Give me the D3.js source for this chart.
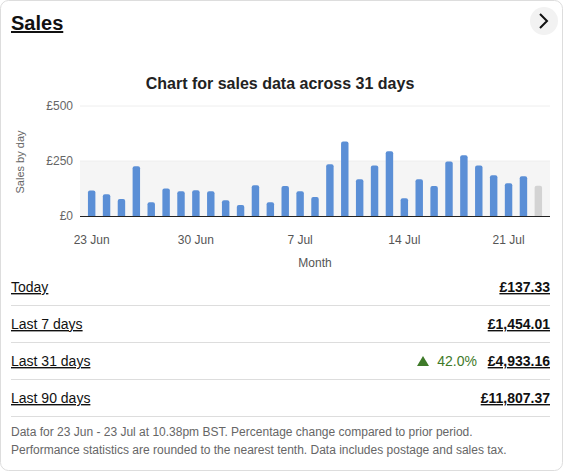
<!DOCTYPE html><html><head><meta charset="utf-8"><script src="https://cdn.jsdelivr.net/npm/d3@7"></script>
<style>body{margin:0;background:#fff;font-family:Arial,"Liberation Sans",sans-serif}</style></head><body><svg id="c" width="563" height="471"></svg>
<script>
const days=["23 Jun","24 Jun","25 Jun","26 Jun","27 Jun","28 Jun","29 Jun","30 Jun","1 Jul","2 Jul","3 Jul","4 Jul","5 Jul","6 Jul","7 Jul","8 Jul","9 Jul","10 Jul","11 Jul","12 Jul","13 Jul","14 Jul","15 Jul","16 Jul","17 Jul","18 Jul","19 Jul","20 Jul","21 Jul","22 Jul","23 Jul"];
const sales=[116,99,77,226,63,125,113,117,113,72,50,140,62,136,113,86,235,339,167,230,294,81,167,136,248,276,230,185,149,181,137];
const xTicks=["23 Jun","30 Jun","7 Jul","14 Jul","21 Jul"];
const yTicks=[0,250,500];
const rowLabels=["Today","Last 7 days","Last 31 days","Last 90 days"];
const rowValues=["£137.33","£1,454.01","£4,933.16","£11,807.37"];
const svg=d3.select("#c");
svg.append("rect").attr("x",0.5).attr("y",0.5).attr("width",562).attr("height",470).attr("rx",8).attr("fill","#fff").attr("stroke","#ddd");
svg.append("text").attr("x",11).attr("y",30).attr("font-size",20).attr("font-weight","bold").attr("fill","#111").attr("text-decoration","underline").text("Sales");
svg.append("circle").attr("cx",544).attr("cy",21).attr("r",14).attr("fill","#f2f2f2");
svg.append("path").attr("d","M540,14 L547,21 L540,28").attr("fill","none").attr("stroke","#111").attr("stroke-width",2);
svg.append("text").attr("x",280).attr("y",89).attr("text-anchor","middle").attr("font-size",16).attr("font-weight","bold").attr("fill","#222").text("Chart for sales data across 31 days");
const x=d3.scaleBand().domain(days).range([80.5,549.5]).padding(0.5);
const y=d3.scaleLinear().domain([0,500]).range([216,106]);
svg.append("rect").attr("x",80).attr("width",470).attr("y",y(250)).attr("height",y(0)-y(250)).attr("fill","#f5f5f5");
const g=svg.append("g");
yTicks.forEach(t=>{ if(t>0) g.append("line").attr("x1",80).attr("x2",550).attr("y1",y(t)).attr("y2",y(t)).attr("stroke","#eee");
 g.append("text").attr("x",73).attr("y",y(t)+4).attr("text-anchor","end").attr("font-size",12).attr("fill","#666").text("£"+t);});
svg.selectAll(".b").data(sales).enter().append("path").attr("fill",(d,i)=>i==sales.length-1?"#d3d3d3":"#5b8fd6")
 .attr("d",(d,i)=>{const x0=x(days[i]),w=x.bandwidth(),t=y(d),r=2;return `M${x0},${y(0)}V${t+r}Q${x0},${t} ${x0+r},${t}H${x0+w-r}Q${x0+w},${t} ${x0+w},${t+r}V${y(0)}Z`;});
svg.append("line").attr("x1",80).attr("x2",550).attr("y1",216.5).attr("y2",216.5).attr("stroke","#222");
xTicks.forEach(t=>svg.append("text").attr("x",x(t)+x.bandwidth()/2).attr("y",244).attr("text-anchor","middle").attr("font-size",12).attr("fill","#555").text(t));
svg.append("text").attr("x",315).attr("y",267).attr("text-anchor","middle").attr("font-size",12).attr("fill","#555").text("Month");
svg.append("text").attr("transform","translate(24,162) rotate(-90)").attr("text-anchor","middle").attr("font-size",11).attr("fill","#666").text("Sales by day");
rowLabels.forEach((l,i)=>{const yy=292+i*37;
 svg.append("text").attr("x",11).attr("y",yy).attr("font-size",14).attr("fill","#111").attr("text-decoration","underline").text(l);
 svg.append("text").attr("x",550).attr("y",yy).attr("text-anchor","end").attr("font-size",14).attr("font-weight","bold").attr("fill","#111").attr("text-decoration","underline").text(rowValues[i]);
 svg.append("line").attr("x1",11).attr("x2",550).attr("y1",yy+13.5).attr("y2",yy+13.5).attr("stroke","#ddd");});
svg.append("path").attr("d","M417,366 L423,356 L429,366Z").attr("fill","#3f7a2a");
svg.append("text").attr("x",477).attr("y",366).attr("text-anchor","end").attr("font-size",14).attr("fill","#3f7a2a").text("42.0%");
["Data for 23 Jun - 23 Jul at 10.38pm BST. Percentage change compared to prior period.","Performance statistics are rounded to the nearest tenth. Data includes postage and sales tax."].forEach((t,i)=>
 svg.append("text").attr("x",11).attr("y",436+i*18).attr("font-size",12).attr("fill","#666").text(t));
</script></body></html>
